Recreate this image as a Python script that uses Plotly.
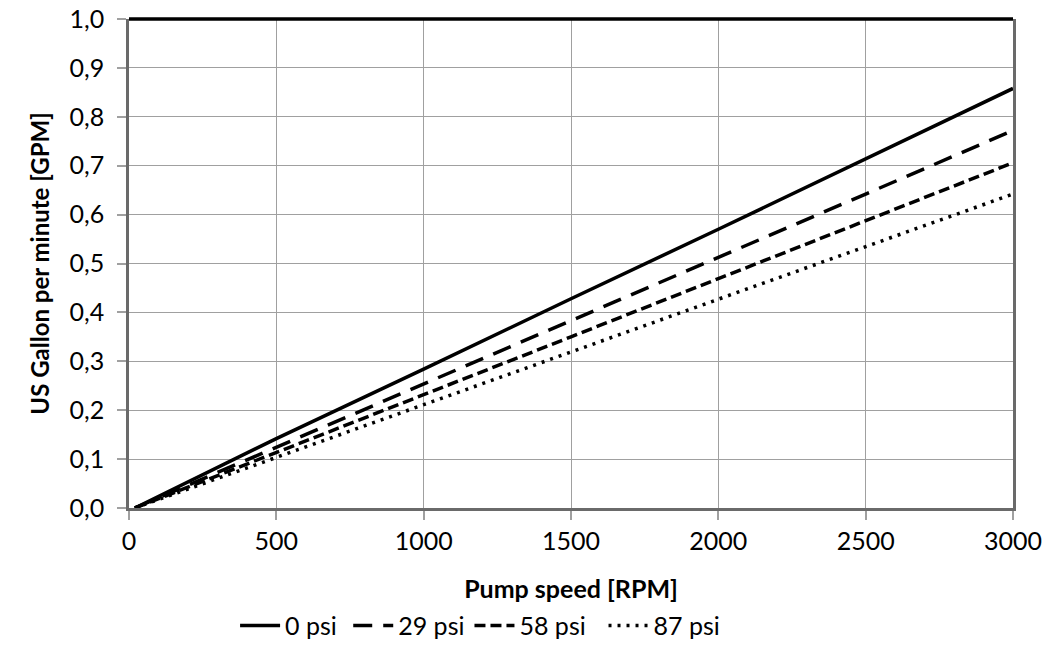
import plotly.graph_objects as go

rpm = [20, 500, 1000, 1500, 2000, 2500, 3000]
gpm_0psi = [0.0, 0.142, 0.284, 0.428, 0.570, 0.714, 0.858]
gpm_29psi = [0.0, 0.124, 0.254, 0.383, 0.513, 0.642, 0.772]
gpm_58psi = [0.0, 0.113, 0.232, 0.350, 0.469, 0.587, 0.706]
gpm_87psi = [0.0, 0.103, 0.211, 0.319, 0.427, 0.534, 0.642]

series = [
    ("0 psi\u00a0", gpm_0psi, "solid"),
    ("29 psi", gpm_29psi, "19px,11px"),
    ("58 psi\u00a0\u00a0", gpm_58psi, "11px,5px"),
    ("87 psi", gpm_87psi, "3px,6px"),
]

FONT = "Lato, 'Open Sans', sans-serif"

fig = go.Figure()
for name, vals, dash in series:
    fig.add_trace(go.Scatter(
        x=rpm, y=vals, mode="lines", name=name,
        line=dict(color="black", width=3.5, dash=dash),
    ))

# thick black top border of plot area
fig.add_shape(type="line", xref="x domain", yref="y domain",
              x0=0, x1=1, y0=1, y1=1, line=dict(color="black", width=3.5))

fig.update_layout(
    width=1047, height=649,
    margin=dict(l=129, r=34, t=19, b=141, autoexpand=False),
    paper_bgcolor="white", plot_bgcolor="white",
    separators=",.",
    font=dict(family=FONT, size=25, color="black"),
    showlegend=True,
    legend=dict(orientation="h", x=0.12, xanchor="left",
                yref="container", y=0.036, yanchor="middle",
                font=dict(size=25), itemwidth=40, tracegroupgap=0,
                bgcolor="rgba(0,0,0,0)"),
)
fig.update_xaxes(
    range=[0, 3000], dtick=500, tick0=0, automargin=False,
    showgrid=True, gridcolor="#a0a0a0", gridwidth=1.3,
    showline=True, linecolor="#6a6a6a", linewidth=2.5, mirror=False,
    ticks="outside", ticklen=9, tickcolor="#a0a0a0", tickwidth=1.5,
    zeroline=False,
    title=dict(text="<b>Pump speed [RPM]</b>", font=dict(size=25), standoff=30),
    tickfont=dict(size=25),
)
fig.update_yaxes(
    range=[0, 1.0], dtick=0.1, tick0=0, tickformat=".1f", automargin=False,
    showgrid=True, gridcolor="#a0a0a0", gridwidth=1.3,
    showline=True, linecolor="#6a6a6a", linewidth=2.5, mirror=True,
    ticks="outside", ticklen=9, tickcolor="#a0a0a0", tickwidth=1.5,
    zeroline=False, ticklabelstandoff=8,
    title=dict(text="<b>US Gallon per minute [GPM]</b>", font=dict(size=24), standoff=14),
    tickfont=dict(size=25),
)

fig.write_html("out.html")
